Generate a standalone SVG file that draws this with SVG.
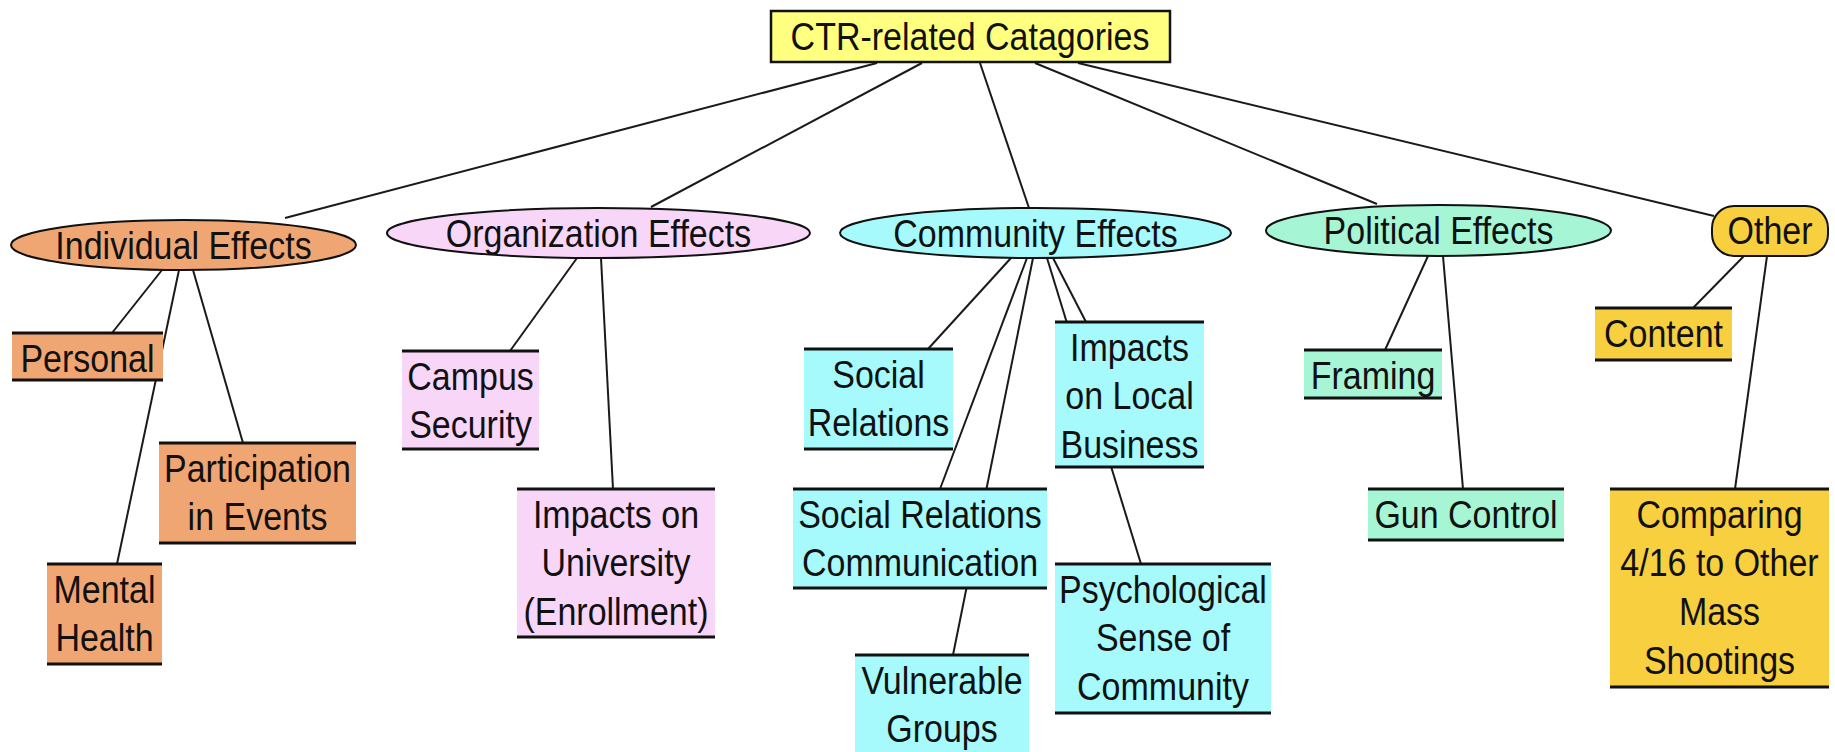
<svg xmlns="http://www.w3.org/2000/svg" width="1835" height="752" viewBox="0 0 1835 752">
<style>
.t{font-family:"Liberation Sans",Arial,sans-serif;font-size:34px;fill:#111;text-anchor:middle}
.c line{stroke:#1a1a1a;stroke-width:2}
.el{stroke:#111;stroke-width:2}
.edge{fill:none;stroke:#111;stroke-width:3}
.orange{fill:#F0A673}.pink{fill:#F8D6F8}.cyan{fill:#A6FAFB}.mint{fill:#A6F6D6}.gold{fill:#F8CF3F}.yellow{fill:#FFFF80}
</style>
<rect width="1835" height="752" fill="#fff"/>
<g id="connectors" class="c">
<line x1="877" y1="63" x2="285" y2="218"/>
<line x1="922" y1="63" x2="651" y2="207"/>
<line x1="980" y1="63" x2="1029" y2="208"/>
<line x1="1035" y1="63" x2="1377" y2="204"/>
<line x1="1078" y1="63" x2="1714" y2="216"/>
<line x1="162" y1="270" x2="112" y2="333"/>
<line x1="179" y1="270" x2="117" y2="564"/>
<line x1="193" y1="270" x2="243" y2="443"/>
<line x1="577" y1="258" x2="510" y2="351"/>
<line x1="601" y1="258" x2="613" y2="489"/>
<line x1="1011" y1="258" x2="928" y2="349"/>
<line x1="1027" y1="258" x2="940" y2="489"/>
<line x1="1033" y1="258" x2="953" y2="655"/>
<line x1="1047" y1="258" x2="1141" y2="564"/>
<line x1="1053" y1="258" x2="1086" y2="322"/>
<line x1="1428" y1="256" x2="1385" y2="350"/>
<line x1="1443" y1="256" x2="1463" y2="489"/>
<line x1="1744" y1="256" x2="1693" y2="308"/>
<line x1="1767" y1="256" x2="1735" y2="489"/>
</g>
<g id="root">
<rect x="771" y="11" width="399" height="51" class="yellow" stroke="#111" stroke-width="2.5"/>
<text class="t" transform="translate(970,50) scale(1,1.12)">CTR-related Catagories</text>
</g>
<g id="individual">
<ellipse cx="183.5" cy="245" rx="172.5" ry="25" class="el orange"/>
<text class="t" transform="translate(183.5,258.5) scale(1,1.12)">Individual Effects</text>
</g>
<g id="organization">
<ellipse cx="598.5" cy="233" rx="211.5" ry="25" class="el pink"/>
<text class="t" transform="translate(598.5,246.5) scale(1,1.12)">Organization Effects</text>
</g>
<g id="community">
<ellipse cx="1035.5" cy="233" rx="195.5" ry="25" class="el cyan"/>
<text class="t" transform="translate(1035.5,246.5) scale(1,1.12)">Community Effects</text>
</g>
<g id="political">
<ellipse cx="1438.5" cy="230.5" rx="172.5" ry="25.5" class="el mint"/>
<text class="t" transform="translate(1438.5,244) scale(1,1.12)">Political Effects</text>
</g>
<g id="other">
<rect x="1712" y="206" width="116" height="50" rx="22" class="el gold"/>
<text class="t" transform="translate(1770,244) scale(1,1.12)">Other</text>
</g>
<g id="personal">
<rect x="12" y="333" width="151" height="47" class="orange"/>
<path class="edge" d="M12 333H163M12 380H163"/>
<text class="t" transform="translate(87.5,371.5) scale(1,1.12)">Personal</text>
</g>
<g id="participation">
<rect x="159" y="443" width="197" height="100" class="orange"/>
<path class="edge" d="M159 443H356M159 543H356"/>
<text class="t" transform="translate(257.5,481.5) scale(1,1.12)"><tspan x="0">Participation</tspan><tspan x="0" dy="43.75">in Events</tspan></text>
</g>
<g id="mental">
<rect x="47" y="564" width="115" height="100" class="orange"/>
<path class="edge" d="M47 564H162M47 664H162"/>
<text class="t" transform="translate(104.5,602.5) scale(1,1.12)"><tspan x="0">Mental</tspan><tspan x="0" dy="43.75">Health</tspan></text>
</g>
<g id="campus">
<rect x="402" y="351" width="137" height="98" class="pink"/>
<path class="edge" d="M402 351H539M402 449H539"/>
<text class="t" transform="translate(470.5,389.5) scale(1,1.12)"><tspan x="0">Campus</tspan><tspan x="0" dy="43.75">Security</tspan></text>
</g>
<g id="university">
<rect x="517" y="489" width="198" height="148" class="pink"/>
<path class="edge" d="M517 489H715M517 637H715"/>
<text class="t" transform="translate(616,527.5) scale(1,1.12)"><tspan x="0">Impacts on</tspan><tspan x="0" dy="43.75">University</tspan><tspan x="0" dy="43.75">(Enrollment)</tspan></text>
</g>
<g id="social-relations">
<rect x="804" y="349" width="149" height="100" class="cyan"/>
<path class="edge" d="M804 349H953M804 449H953"/>
<text class="t" transform="translate(878.5,387.5) scale(1,1.12)"><tspan x="0">Social</tspan><tspan x="0" dy="43.75">Relations</tspan></text>
</g>
<g id="src">
<rect x="793" y="489" width="254" height="99" class="cyan"/>
<path class="edge" d="M793 489H1047M793 588H1047"/>
<text class="t" transform="translate(920,527.5) scale(1,1.12)"><tspan x="0">Social Relations</tspan><tspan x="0" dy="43.75">Communication</tspan></text>
</g>
<g id="vulnerable">
<rect x="855" y="655" width="174" height="110" class="cyan"/>
<path class="edge" d="M855 655H1029"/>
<text class="t" transform="translate(942,693.5) scale(1,1.12)"><tspan x="0">Vulnerable</tspan><tspan x="0" dy="43.75">Groups</tspan></text>
</g>
<g id="local-business">
<rect x="1055" y="322" width="149" height="145" class="cyan"/>
<path class="edge" d="M1055 322H1204M1055 467H1204"/>
<text class="t" transform="translate(1129.5,360.5) scale(1,1.12)"><tspan x="0">Impacts</tspan><tspan x="0" dy="43.75">on Local</tspan><tspan x="0" dy="43.75">Business</tspan></text>
</g>
<g id="psychological">
<rect x="1055" y="564" width="216" height="149" class="cyan"/>
<path class="edge" d="M1055 564H1271M1055 713H1271"/>
<text class="t" transform="translate(1163,602.5) scale(1,1.12)"><tspan x="0">Psychological</tspan><tspan x="0" dy="43.75">Sense of</tspan><tspan x="0" dy="43.75">Community</tspan></text>
</g>
<g id="framing">
<rect x="1304" y="350" width="138" height="48" class="mint"/>
<path class="edge" d="M1304 350H1442M1304 398H1442"/>
<text class="t" transform="translate(1373,388.5) scale(1,1.12)">Framing</text>
</g>
<g id="gun-control">
<rect x="1368" y="489" width="196" height="51" class="mint"/>
<path class="edge" d="M1368 489H1564M1368 540H1564"/>
<text class="t" transform="translate(1466,527.5) scale(1,1.12)">Gun Control</text>
</g>
<g id="content">
<rect x="1595" y="308" width="137" height="52" class="gold"/>
<path class="edge" d="M1595 308H1732M1595 360H1732"/>
<text class="t" transform="translate(1663.5,347) scale(1,1.12)">Content</text>
</g>
<g id="comparing">
<rect x="1610" y="489" width="219" height="198" class="gold"/>
<path class="edge" d="M1610 489H1829M1610 687H1829"/>
<text class="t" transform="translate(1719.5,527.5) scale(1,1.12)"><tspan x="0">Comparing</tspan><tspan x="0" dy="43.75">4/16 to Other</tspan><tspan x="0" dy="43.75">Mass</tspan><tspan x="0" dy="43.75">Shootings</tspan></text>
</g>
</svg>
